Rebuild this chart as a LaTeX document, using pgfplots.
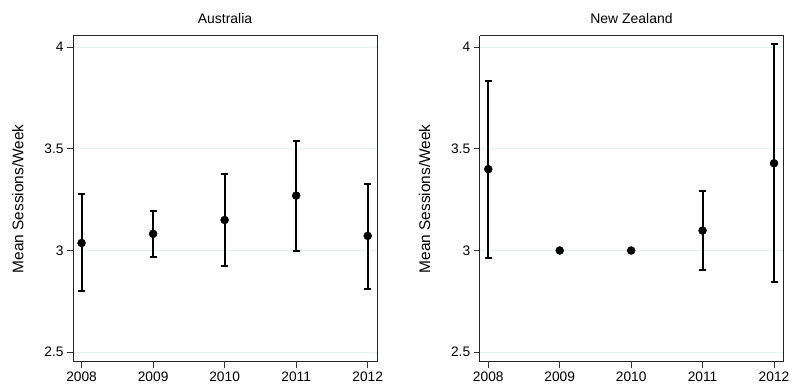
\documentclass[border=0pt]{standalone}
\usepackage{fontspec}
\setmainfont{Liberation Sans}
\usepackage{pgfplots}
\pgfplotsset{compat=1.18}
\definecolor{gridc}{HTML}{E8F0F0}
\pgfplotsset{
  panel/.style={
    scale only axis,
    width=304bp, height=326.3bp,
    xmin=2007.88, xmax=2012.13,
    ymin=2.452, ymax=4.056,
    xtick={2008,2009,2010,2011,2012},
    xticklabels={2008,2009,2010,2011,2012},
    ytick={2.5,3,3.5,4},
    yticklabels={2.5,3,3.5,4},
    ymajorgrids, grid style={gridc, line width=0.8bp},
    tick align=outside, major tick length=6bp,
    tick style={black!80, line width=0.8bp},
    axis line style={black!85, line width=1bp},
    axis x line*=bottom, axis y line*=left,
    ticklabel style={font=\fontsize{13.8}{15}\selectfont},
    ylabel style={font=\fontsize{15.5}{17}\selectfont},
    title style={font=\fontsize{14}{16}\selectfont, yshift=3bp},
    ylabel={Mean Sessions/Week},
    ylabel style={yshift=14bp},
    xtick pos=bottom, ytick pos=left,
    clip=false,
  },
  pts/.style={only marks, black, mark=*, mark size=4bp, mark options={fill=black, draw=black}},
  eb/.style={pts, error bars/.cd, y dir=both, y explicit,
    error mark=|, error bar style={line width=2bp, black},
    error mark options={black, line width=2bp, mark size=3.5bp}},
}
\begin{document}
\begin{tikzpicture}
\useasboundingbox (0,0) rectangle (792bp,390bp);
\begin{axis}[panel, at={(73bp,28bp)}, anchor=south west, title={Australia}]
\draw[black!85, line width=1bp] (rel axis cs:0,1) -- (rel axis cs:1,1) -- (rel axis cs:1,0);
\addplot[eb] coordinates {
 (2008,3.037) += (0,0.243) -= (0,0.237)
 (2009,3.082) += (0,0.113) -= (0,0.113)
 (2010,3.150) += (0,0.227) -= (0,0.225)
 (2011,3.270) += (0,0.269) -= (0,0.272)
 (2012,3.072) += (0,0.257) -= (0,0.259)
};
\end{axis}
\begin{axis}[panel, at={(479.7bp,28bp)}, anchor=south west, width=303.6bp, title={New Zealand}]
\draw[black!85, line width=1bp] (rel axis cs:0,1) -- (rel axis cs:1,1) -- (rel axis cs:1,0);
\addplot[eb] coordinates {
 (2008,3.400) += (0,0.432) -= (0,0.436)
 (2011,3.098) += (0,0.195) -= (0,0.195)
 (2012,3.429) += (0,0.584) -= (0,0.586)
};
\addplot[pts] coordinates {(2009,3.0) (2010,3.0)};
\end{axis}
\end{tikzpicture}
\end{document}
